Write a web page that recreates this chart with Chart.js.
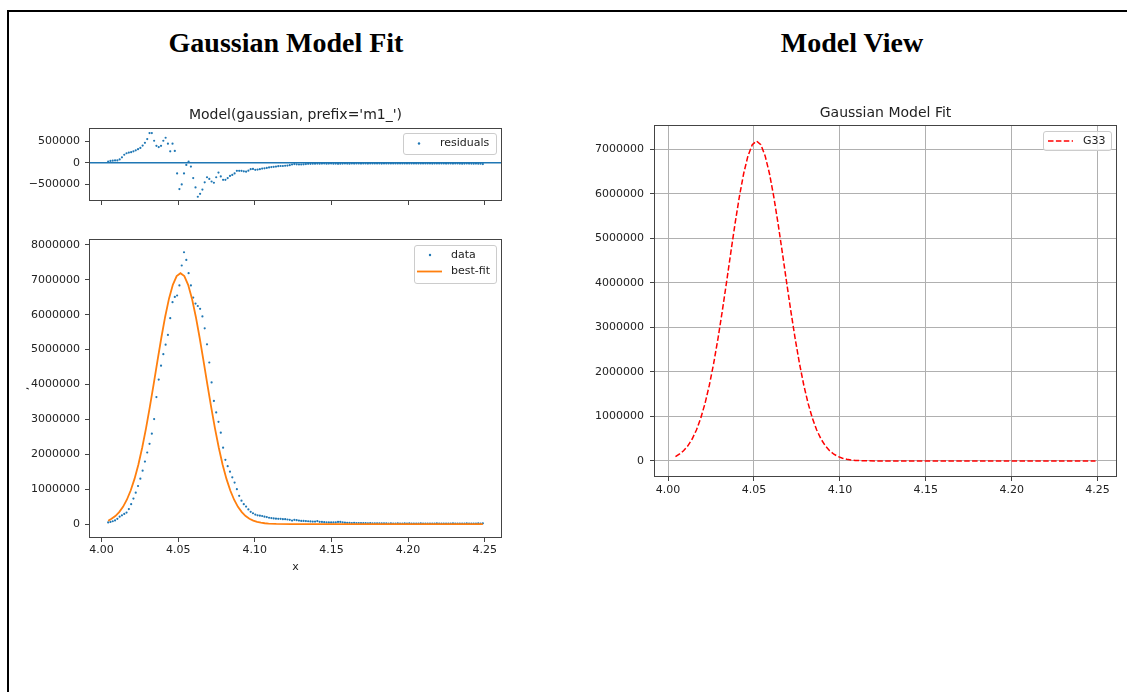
<!DOCTYPE html>
<html><head><meta charset="utf-8">
<script src="https://cdn.jsdelivr.net/npm/chart.js@4.4.1/dist/chart.umd.min.js"></script>
<style>
html,body{margin:0;padding:0;background:#fff;width:1127px;height:692px;overflow:hidden;}
#frame{position:absolute;left:7px;top:10px;width:1200px;height:800px;border:2px solid #000;box-sizing:border-box;}
.heading{position:absolute;top:29px;width:400px;text-align:center;font-family:"Liberation Serif","Times New Roman",serif;font-weight:bold;font-size:28px;line-height:28px;color:#000;}
canvas{position:absolute;}
</style></head><body>
<div id="frame"></div>
<div class="heading" style="left:86px">Gaussian Model Fit</div>
<div class="heading" style="left:652px">Model View</div>
<canvas id="res" width="490" height="110" style="left:20px;top:100px"></canvas>
<canvas id="main" width="490" height="350" style="left:20px;top:230px"></canvas>
<canvas id="model" width="545" height="420" style="left:580px;top:95px"></canvas>
<script>
// ---------------- data ----------------
const xValues = [
4.0043,4.0058,4.0073,4.0088,4.0103,4.0118,4.0133,4.0148,4.0163,4.0178,
4.0193,4.0208,4.0223,4.0238,4.0253,4.0268,4.0283,4.0298,4.0313,4.0328,
4.0343,4.0358,4.0373,4.0388,4.0403,4.0418,4.0433,4.0448,4.0463,4.0478,
4.0493,4.0508,4.0523,4.0538,4.0553,4.0568,4.0583,4.0598,4.0613,4.0628,
4.0643,4.0658,4.0673,4.0688,4.0703,4.0718,4.0733,4.0748,4.0763,4.0778,
4.0793,4.0808,4.0823,4.0838,4.0853,4.0868,4.0883,4.0898,4.0913,4.0928,
4.0943,4.0958,4.0973,4.0988,4.1003,4.1018,4.1033,4.1048,4.1063,4.1078,
4.1093,4.1108,4.1123,4.1138,4.1153,4.1168,4.1183,4.1198,4.1213,4.1228,
4.1243,4.1258,4.1273,4.1288,4.1303,4.1318,4.1333,4.1348,4.1363,4.1378,
4.1393,4.1408,4.1423,4.1438,4.1453,4.1468,4.1483,4.1498,4.1513,4.1528,
4.1543,4.1558,4.1573,4.1588,4.1603,4.1618,4.1633,4.1648,4.1663,4.1678,
4.1693,4.1708,4.1723,4.1738,4.1753,4.1768,4.1783,4.1798,4.1813,4.1828,
4.1843,4.1858,4.1873,4.1888,4.1903,4.1918,4.1933,4.1948,4.1963,4.1978,
4.1993,4.2008,4.2023,4.2038,4.2053,4.2068,4.2083,4.2098,4.2113,4.2128,
4.2143,4.2158,4.2173,4.2188,4.2203,4.2218,4.2233,4.2248,4.2263,4.2278,
4.2293,4.2308,4.2323,4.2338,4.2353,4.2368,4.2383,4.2398,4.2413,4.2428,
4.2443,4.2458,4.2473,4.2488
];
const dataValues = [
45000,60000,80000,105000,150000,210000,250000,290000,330000,430000,
570000,730000,900000,1090000,1300000,1530000,1790000,2050000,2300000,2590000,
3010000,3640000,4140000,4540000,4870000,5140000,5420000,5900000,6360000,6510000,
6550000,6840000,7410000,7790000,7570000,7190000,6840000,6490000,6320000,6250000,
6170000,5950000,5610000,5150000,4630000,4060000,3530000,3200000,2930000,2620000,
2190000,1840000,1660000,1500000,1340000,1190000,1000000,810000,670000,570000,
500000,420000,350000,310000,270000,250000,240000,230000,210000,200000,
180000,170000,160000,155000,150000,150000,140000,140000,130000,120000,
100000,120000,110000,100000,90000,90000,85000,80000,75000,70000,
70000,85000,65000,60000,55000,50000,45000,45000,45000,50000,
60000,60000,50000,40000,35000,35000,30000,35000,30000,30000,
28000,25000,25000,20000,25000,20000,20000,22000,20000,18000,
20000,18000,15000,18000,15000,15000,18000,15000,16000,18000,
15000,17000,15000,16000,14000,15000,17000,15000,14000,16000,
15000,14000,16000,17000,15000,14000,16000,15000,14000,16000,
17000,15000,16000,14000,15000,16000,17000,15000,14000,16000,
15000,17000,16000,22000
];
const residualValues = [
30000,45000,50000,55000,55000,80000,130000,190000,225000,240000,
250000,270000,295000,320000,350000,405000,470000,560000,700000,700000,
520000,400000,370000,400000,520000,590000,450000,270000,450000,280000,
-250000,-620000,-510000,-250000,-50000,30000,-90000,-360000,-580000,-800000,
-730000,-630000,-460000,-340000,-380000,-440000,-470000,-340000,-230000,-320000,
-400000,-400000,-360000,-310000,-285000,-250000,-190000,-190000,-190000,-200000,
-210000,-185000,-150000,-145000,-165000,-160000,-150000,-135000,-130000,-120000,
-110000,-100000,-95000,-90000,-80000,-75000,-75000,-70000,-65000,-55000,
-40000,-30000,-35000,-40000,-40000,-35000,-30000,-25000,-25000,-20000,
-20000,-18000,-22000,-18000,-15000,-20000,-18000,-16000,-20000,-18000,
-25000,-22000,-18000,-15000,-18000,-20000,-16000,-18000,-15000,-17000,
-18000,-16000,-15000,-18000,-16000,-15000,-17000,-15000,-16000,-18000,
-15000,-16000,-14000,-15000,-17000,-15000,-16000,-15000,-14000,-16000,
-15000,-17000,-15000,-16000,-14000,-15000,-16000,-15000,-17000,-15000,
-16000,-18000,-15000,-16000,-17000,-15000,-16000,-18000,-17000,-16000,
-18000,-17000,-16000,-18000,-20000,-18000,-17000,-19000,-18000,-20000,
-18000,-20000,-22000,-30000
];
const fitX = [
4.0043,4.0065,4.0090,4.0115,4.0140,4.0165,4.0190,4.0215,4.0240,4.0265,
4.0290,4.0315,4.0340,4.0365,4.0390,4.0415,4.0440,4.0465,4.0490,4.0515,
4.0540,4.0565,4.0590,4.0615,4.0640,4.0665,4.0690,4.0715,4.0740,4.0765,
4.0790,4.0815,4.0840,4.0865,4.0890,4.0915,4.0940,4.0965,4.0990,4.1015,
4.1040,4.1065,4.1090,4.1140,4.1240,4.1500,4.2000,4.2488
];
const fitValues = [
96000,151700,230300,341200,493400,696700,961300,1294000,1702000,2186000,
2741000,3356000,4011000,4683000,5339000,5943000,6460000,6856000,7105000,7190000,
7105000,6856000,6460000,5943000,5339000,4683000,4011000,3356000,2741000,2186000,
1702000,1294000,961300,696700,493400,341200,230300,151700,98000,61400,
37700,22600,13200,4200,300,0,0,0
];
const xLimits = [3.9918, 4.2613];
const xTicks = [4.00, 4.05, 4.10, 4.15, 4.20, 4.25];
const residualLimits = [-900000, 820000];
const residualTicks = [-500000, 0, 500000];
const mainLimits = [-400000, 8170000];
const mainYTicks = [0, 1000000, 2000000, 3000000, 4000000, 5000000, 6000000, 7000000, 8000000];
const modelLimits = [-360000, 7550000];
const modelYTicks = [0, 1000000, 2000000, 3000000, 4000000, 5000000, 6000000, 7000000];

// ---------------- styling helpers ----------------
const FONT = 'DejaVu Sans';
const TXT = '#222222';
const SPINE = '#444444';
Chart.defaults.font.family = FONT;

function fmtY(v){ return v < 0 ? '\u2212' + Math.abs(v) : String(v); }
function fixedTicks(list){ return s => { s.ticks = list.map(v => ({value: v})); }; }

const decor = {
  id: 'decor',
  afterDatasetsDraw(chart, args, opts) {
    const ctx = chart.ctx, a = chart.chartArea;
    ctx.save();
    if (opts.zeroLine) {
      const y = chart.scales.y.getPixelForValue(0);
      ctx.strokeStyle = opts.zeroLine; ctx.lineWidth = 1.5;
      ctx.beginPath(); ctx.moveTo(a.left, y); ctx.lineTo(a.right, y); ctx.stroke();
    }
    ctx.strokeStyle = SPINE; ctx.lineWidth = 1;
    ctx.strokeRect(Math.round(a.left) + 0.5, Math.round(a.top) + 0.5, Math.round(a.right - a.left) - 1, Math.round(a.bottom - a.top) - 1);
    const L = opts.legend;
    if (L) {
      const bx = Math.round(a.right - L.inset - L.w), by = Math.round(a.top + L.insetTop);
      ctx.fillStyle = 'rgba(255,255,255,0.8)'; ctx.strokeStyle = '#cccccc'; ctx.lineWidth = 1;
      ctx.beginPath();
      if (ctx.roundRect) ctx.roundRect(bx + 0.5, by + 0.5, L.w, L.h, 2.5); else ctx.rect(bx + 0.5, by + 0.5, L.w, L.h);
      ctx.fill(); ctx.stroke();
      ctx.font = '11px "DejaVu Sans"'; ctx.textBaseline = 'middle'; ctx.textAlign = 'left';
      for (let k = 0; k < L.rows.length; k++) {
        const r = L.rows[k];
        const ds = chart.data.datasets[r.ds];
        const yy = by + r.y;
        if (r.kind === 'dot') {
          ctx.fillStyle = ds.pointBackgroundColor;
          ctx.beginPath(); ctx.arc(bx + r.mx, yy, 1.2, 0, Math.PI * 2); ctx.fill();
        } else {
          ctx.strokeStyle = ds.borderColor; ctx.lineWidth = ds.borderWidth;
          ctx.setLineDash(ds.borderDash ? ds.borderDash : []);
          ctx.beginPath(); ctx.moveTo(bx + r.x0, yy); ctx.lineTo(bx + r.x1, yy); ctx.stroke();
          ctx.setLineDash([]);
        }
        ctx.fillStyle = TXT; ctx.fillText(ds.label, bx + r.tx, yy);
      }
    }
    ctx.restore();
  }
};
Chart.register(decor);

function xScale(o) {
  return {
    type: 'linear', min: xLimits[0], max: xLimits[1],
    afterBuildTicks: fixedTicks(xTicks),
    afterFit: s => { s.height = o.h; s.paddingLeft = 0; s.paddingRight = 0; s.paddingTop = 0; s.paddingBottom = 0; },
    ticks: { display: o.labels, callback: v => Number(v).toFixed(2), font: {family: FONT, size: 11}, color: TXT, padding: o.pad, maxRotation: 0, autoSkip: false },
    grid: { drawOnChartArea: !!o.grid, color: '#b0b0b0', lineWidth: 1, drawTicks: true, tickLength: 4, tickColor: SPINE, tickWidth: 1 },
    border: { display: false },
    title: o.title ? { display: true, text: o.title, font: {family: FONT, size: 11}, color: TXT, padding: {top: 0, bottom: 6.4} } : { display: false }
  };
}
function yScale(o) {
  return {
    type: 'linear', min: o.lim[0], max: o.lim[1],
    afterBuildTicks: fixedTicks(o.ticks),
    afterFit: s => { s.width = o.w; s.paddingLeft = 0; s.paddingRight = 0; s.paddingTop = 0; s.paddingBottom = 0; },
    ticks: { callback: fmtY, font: {family: FONT, size: 11}, color: TXT, padding: o.pad, autoSkip: false },
    grid: { drawOnChartArea: !!o.grid, color: '#b0b0b0', lineWidth: 1, drawTicks: true, tickLength: 4, tickColor: SPINE, tickWidth: 1 },
    border: { display: false },
    title: o.title ? { display: true, text: o.title, font: {family: FONT, size: 11, lineHeight: 1}, color: TXT, padding: 0 } : { display: false }
  };
}
function base() {
  return { responsive: false, animation: false, devicePixelRatio: 1, events: [] };
}
function pts(xs, ys) { return xs.map((x, i) => ({x: x, y: ys[i]})); }

// ---------------- residuals ----------------
new Chart(document.getElementById('res'), {
  type: 'scatter',
  data: { datasets: [{
    label: 'residuals', data: pts(xValues, residualValues),
    pointRadius: 1.1, pointBackgroundColor: '#1f77b4', pointBorderWidth: 0, showLine: false
  }]},
  options: Object.assign(base(), {
    layout: { padding: {top: 0, right: 8, bottom: 0, left: 0} },
    scales: {
      x: xScale({h: 9, labels: false, pad: 2}),
      y: yScale({lim: residualLimits, ticks: residualTicks, w: 69, pad: 5})
    },
    plugins: {
      legend: {display: false}, tooltip: {enabled: false},
      title: { display: true, text: "Model(gaussian, prefix='m1_')", fullSize: false, color: TXT,
               font: {family: FONT, size: 14, weight: 'normal'}, padding: {top: 6.6, bottom: 4.6} },
      decor: { zeroLine: '#1f77b4',
        legend: { w: 93, h: 21, inset: 6, insetTop: 5, rows: [ {ds: 0, kind: 'dot', y: 10.5, mx: 16, tx: 37} ] } }
    }
  })
});

// ---------------- data + best fit ----------------
new Chart(document.getElementById('main'), {
  type: 'scatter',
  data: { datasets: [
    { label: 'data', data: pts(xValues, dataValues), order: 1,
      pointRadius: 1.1, pointBackgroundColor: '#1f77b4', pointBorderWidth: 0, showLine: false },
    { label: 'best-fit', data: pts(fitX, fitValues), order: 0,
      showLine: true, borderColor: '#ff7f0e', borderWidth: 1.8, pointRadius: 0, tension: 0, fill: false }
  ]},
  options: Object.assign(base(), {
    layout: { padding: {top: 9, right: 8, bottom: 0, left: 0} },
    scales: {
      x: xScale({h: 42, labels: true, pad: 2, title: 'x'}),
      y: yScale({lim: mainLimits, ticks: mainYTicks, w: 69, pad: 5, title: ','})
    },
    plugins: {
      legend: {display: false}, tooltip: {enabled: false},
      decor: { legend: { w: 82, h: 38, inset: 6, insetTop: 6, rows: [
        {ds: 0, kind: 'dot', y: 10, mx: 16, tx: 37},
        {ds: 1, kind: 'line', y: 26.5, x0: 3, x1: 28, tx: 37}
      ] } }
    }
  })
});

// ---------------- model view ----------------
new Chart(document.getElementById('model'), {
  type: 'scatter',
  data: { datasets: [
    { label: 'G33', data: pts(fitX, fitValues),
      showLine: true, borderColor: '#ff0000', borderWidth: 1.5, borderDash: [5.5, 2.4], pointRadius: 0, tension: 0, fill: false }
  ]},
  options: Object.assign(base(), {
    layout: { padding: {top: 0, right: 8, bottom: 0, left: 0} },
    scales: {
      x: xScale({h: 38, labels: true, pad: 3, grid: true}),
      y: yScale({lim: modelLimits, ticks: modelYTicks, w: 74, pad: 6, grid: true})
    },
    plugins: {
      legend: {display: false}, tooltip: {enabled: false},
      title: { display: true, text: 'Gaussian Model Fit', fullSize: false, color: TXT,
               font: {family: FONT, size: 14, weight: 'normal'}, padding: {top: 10.1, bottom: 3.1} },
      decor: { legend: { w: 68, h: 19, inset: 6, insetTop: 6, rows: [
        {ds: 0, kind: 'line', y: 10, x0: 5, x1: 30, tx: 40}
      ] } }
    }
  })
});
</script>
</body></html>
